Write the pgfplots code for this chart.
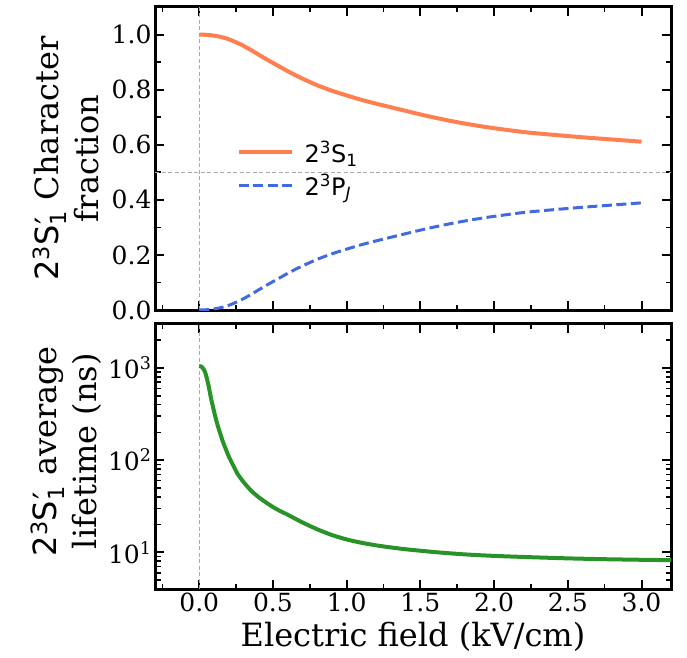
\documentclass[border=0pt]{standalone}
\usepackage{fontspec}
\setmainfont{DejaVu Serif}
\newfontfamily\dvs{DejaVu Sans}
\newfontfamily\dvserif{DejaVu Serif}
\usepackage{pgfplots}
\usepackage{pgfplotstable}
\pgfplotsset{compat=1.18}

\definecolor{sline}{RGB}{255,127,80}
\definecolor{pline}{RGB}{65,105,225}
\definecolor{tline}{RGB}{40,148,40}
\definecolor{refgray}{RGB}{170,170,170}

% character fractions of the mixed state vs field (kV/cm)
\pgfplotstableread{
E     S      P
0.00  1.000  0.000
0.05  0.999  0.001
0.10  0.996  0.004
0.15  0.991  0.009
0.20  0.983  0.017
0.25  0.972  0.028
0.30  0.959  0.041
0.35  0.944  0.056
0.40  0.928  0.072
0.45  0.912  0.088
0.50  0.897  0.103
0.55  0.882  0.118
0.60  0.867  0.133
0.65  0.853  0.147
0.70  0.840  0.160
0.80  0.816  0.184
0.90  0.796  0.204
1.00  0.779  0.221
1.10  0.763  0.237
1.20  0.749  0.251
1.30  0.736  0.264
1.40  0.723  0.277
1.50  0.710  0.290
1.60  0.698  0.302
1.70  0.687  0.313
1.80  0.677  0.323
1.90  0.668  0.332
2.00  0.660  0.340
2.20  0.646  0.354
2.40  0.636  0.364
2.60  0.627  0.373
2.80  0.619  0.381
3.00  0.611  0.389
}\fractab

% average lifetime (ns) vs field (kV/cm)
\pgfplotstableread{
E     tau
0.00  1050
0.02  1020
0.04  900
0.06  680
0.08  470
0.10  340
0.12  254
0.14  200
0.16  160
0.18  132
0.20  110
0.23  88
0.26  71
0.30  58
0.35  47
0.40  40
0.45  35
0.50  31
0.55  28
0.60  25.6
0.70  21.1
0.80  17.8
0.90  15.4
1.00  13.8
1.10  12.7
1.20  11.9
1.30  11.3
1.40  10.8
1.60  10.05
1.80  9.5
2.00  9.15
2.25  8.85
2.50  8.6
2.75  8.42
3.00  8.3
3.25  8.2
}\tautab

% state symbol in sans, rest of the label in serif
\newcommand\tsone{{\dvs 2\textsuperscript{3}S\rlap{\kern0.03em ′}\textsubscript{1}}}

\pgfplotsset{
  /pgf/number format/assume math mode=true,
  common/.style={
    scale only axis,
    width=516pt,
    xmin=-0.3, xmax=3.2,
    xtick={0,0.5,...,3.0},
    minor xtick={-0.25,0.25,0.75,1.25,1.75,2.25,2.75},
    tick align=inside,
    tick pos=both,
    axis line style={line width=3pt, black},
    major tick style={line width=2pt, black},
    minor tick style={line width=1.6pt, black},
    major tick length=9pt,
    minor tick length=5.5pt,
    tick label style={font=\dvserif\fontsize{25}{30}\selectfont},
    every axis y label/.style={rotate=90, anchor=center, align=center,
      font=\dvserif\fontsize{32}{40}\selectfont},
  },
}

\begin{document}
\begin{tikzpicture}[x=1pt,y=1pt]
\useasboundingbox (0,0) rectangle (687,657);

\begin{axis}[common,
  at={(155pt,347pt)}, anchor=south west,
  height=303pt,
  ymin=0, ymax=1.1,
  ytick={0,0.2,...,1.0},
  minor ytick={0.1,0.3,0.5,0.7,0.9},
  xticklabels={},
  yticklabel style={/pgf/number format/.cd, fixed, fixed zerofill, precision=1},
  ylabel={\tsone{\dvserif\ Character}\\{\dvserif fraction}},
  ylabel style={at={(axis description cs:-0.1725,0.5)}},
  legend style={draw=none, fill=none, at={(axis description cs:0.152,0.575)},
    anchor=north west, font=\dvs\fontsize{24}{28}\selectfont,
    row sep=4pt, column sep=8pt, nodes={inner sep=3pt}},
  legend cell align=left,
  legend image code/.code={\draw[#1] (0pt,0pt) -- (53pt,0pt);},
]
\draw[refgray, line width=1pt, dash pattern=on 4pt off 2.5pt] (axis cs:0,0) -- (axis cs:0,1.1);
\draw[refgray, line width=1pt, dash pattern=on 4pt off 2.5pt] (axis cs:-0.3,0.5) -- (axis cs:3.2,0.5);
\addplot[sline, line width=4pt, smooth, tension=0.4] table[x=E, y=S] {\fractab};
\addlegendentry{2\textsuperscript{3}S\textsubscript{1}}
\addplot[pline, line width=3pt, dash pattern=on 10pt off 4.5pt, smooth, tension=0.4] table[x=E, y=P] {\fractab};
\addlegendentry{2\textsuperscript{3}P\textsubscript{\itshape J}}
\end{axis}

\begin{axis}[common,
  at={(155pt,68pt)}, anchor=south west,
  height=265pt,
  ymode=log,
  ymin=4, ymax=3000,
  ytick={10,100,1000},
  yticklabels={10\textsuperscript{1},10\textsuperscript{2},10\textsuperscript{3}},
  minor ytick={4,5,6,7,8,9,20,30,40,50,60,70,80,90,200,300,400,500,600,700,800,900,2000,3000},
  xticklabel style={/pgf/number format/.cd, fixed, fixed zerofill, precision=1},
  xlabel={Electric field (kV/cm)},
  xlabel style={at={(axis description cs:0.5,-0.218)}, anchor=base,
    font=\dvserif\fontsize{32}{40}\selectfont},
  ylabel={\tsone{\dvserif\ average}\\{\dvserif lifetime (ns)}},
  ylabel style={at={(axis description cs:-0.1725,0.52)}},
]
\draw[refgray, line width=1pt, dash pattern=on 4pt off 2.5pt] (axis cs:0,4) -- (axis cs:0,3000);
\addplot[tline, line width=4pt, smooth, tension=0.4] table[x=E, y=tau] {\tautab};
\end{axis}
\end{tikzpicture}
\end{document}
